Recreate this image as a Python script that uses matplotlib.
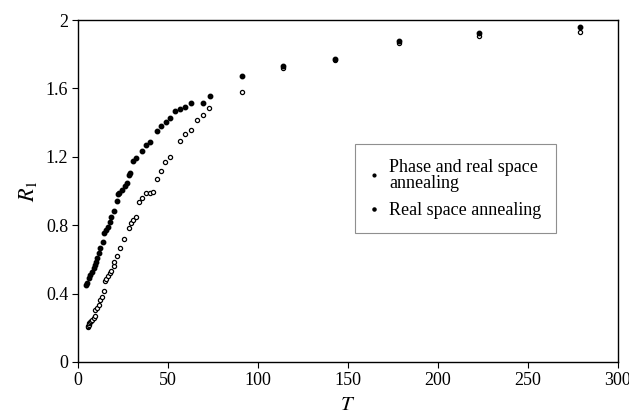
import numpy as np
import matplotlib.pyplot as plt

# Phase and real space annealing (open markers)
T_phase = [5.3, 5.6, 5.9, 6.3, 6.8, 7.3, 7.8, 8.7, 9.3, 9.6, 10.6, 11.5, 12.4, 13.3,
           14.3, 14.8, 15.6, 16.7, 17.6, 18.5, 19.8, 20.2, 21.7, 23.1, 25.7, 28.1,
           29.6, 30.6, 32.0, 33.7, 35.7, 37.9, 39.8, 41.7, 43.8, 45.9, 48.5, 50.9,
           56.5, 59.4, 62.6, 66.1, 69.4, 72.9, 91.3, 114.0, 143.0, 178.5, 223.0, 279.0]
R_phase = [0.205, 0.21, 0.216, 0.226, 0.236, 0.24, 0.246, 0.256, 0.269, 0.304, 0.314,
           0.333, 0.363, 0.382, 0.417, 0.475, 0.484, 0.503, 0.519, 0.532, 0.561, 0.583,
           0.622, 0.665, 0.719, 0.781, 0.815, 0.830, 0.846, 0.937, 0.957, 0.986, 0.990,
           0.996, 1.070, 1.117, 1.168, 1.199, 1.294, 1.335, 1.355, 1.415, 1.444, 1.483,
           1.577, 1.72, 1.765, 1.865, 1.905, 1.928]

# Real space annealing (filled markers)
T_real = [4.5, 5.1, 6.0, 6.9, 7.8, 8.7, 9.3, 10.0, 10.6, 11.5, 12.4, 13.7, 14.6, 15.7,
          16.7, 17.6, 18.5, 20.0, 21.5, 22.0, 23.0, 24.6, 25.9, 27.0, 28.2, 29.0, 30.7,
          32.2, 35.7, 37.6, 39.8, 43.9, 46.1, 48.7, 51.1, 53.9, 56.7, 59.6, 62.6, 69.3,
          73.1, 91.3, 114.0, 143.0, 178.5, 223.0, 279.0]
R_real = [0.45, 0.464, 0.489, 0.509, 0.528, 0.548, 0.567, 0.587, 0.606, 0.639, 0.665,
          0.703, 0.756, 0.772, 0.791, 0.819, 0.846, 0.885, 0.942, 0.981, 0.990, 1.006,
          1.029, 1.049, 1.094, 1.107, 1.175, 1.195, 1.234, 1.271, 1.288, 1.349, 1.380,
          1.405, 1.427, 1.466, 1.478, 1.493, 1.513, 1.517, 1.557, 1.675, 1.73, 1.772,
          1.875, 1.925, 1.96]

xticks = [0, 50, 100, 150, 200, 250, 300]
yticks = [0, 0.4, 0.8, 1.2, 1.6, 2.0]
yticklabels = ['0', '0.4', '0.8', '1.2', '1.6', '2']

plt.rcParams['font.family'] = ['Liberation Serif', 'DejaVu Serif']
plt.rcParams['mathtext.fontset'] = 'stix'

fig = plt.figure(figsize=(6.29, 4.17), dpi=100)
ax = fig.add_axes([0.124, 0.132, 0.8585, 0.82])

ax.plot(T_phase, R_phase, linestyle='none', marker='o', markersize=3.0,
        markerfacecolor='white', markeredgecolor='black', markeredgewidth=0.9,
        label='Phase and real space\nannealing')
ax.plot(T_real, R_real, linestyle='none', marker='o', markersize=3.2,
        color='black', label='Real space annealing')

ax.set_xlim(0, 300)
ax.set_ylim(0, 2)
ax.set_xticks(xticks)
ax.set_yticks(yticks)
ax.set_yticklabels(yticklabels)
ax.tick_params(direction='out', length=4, width=0.8, labelsize=13, pad=3)
for s in ax.spines.values():
    s.set_linewidth(1.0)

ax.set_xlabel('$T$', fontsize=15, labelpad=5)
ax.set_ylabel('$R_1$', fontsize=16, labelpad=5)

leg = ax.legend(loc='upper left', bbox_to_anchor=(0.513, 0.637), fontsize=13,
                frameon=True, fancybox=False, edgecolor='0.45', handlelength=0.5,
                handletextpad=0.6, markerscale=0.7, borderpad=0.8, labelspacing=0.55,
                borderaxespad=0)
leg.get_frame().set_linewidth(0.8)
for h in leg.legend_handles:
    h.set_markerfacecolor('black')
for t in leg.get_texts():
    t.set_linespacing(0.95)

fig.savefig('out.png', dpi=100)
